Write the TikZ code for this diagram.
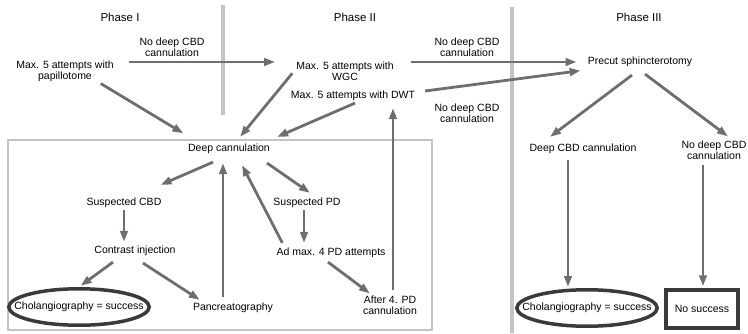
\documentclass[tikz,border=0pt]{standalone}
\usepackage{fontspec}
\setmainfont{Liberation Sans}
\usetikzlibrary{arrows.meta,shapes.geometric}

\definecolor{arrowgray}{RGB}{110,110,110}
\definecolor{sepgray}{RGB}{196,196,196}
\definecolor{ringgray}{RGB}{58,58,58}

\tikzset{
  lbl/.style={align=center, inner sep=2pt, font=\fontsize{10.5}{11}\selectfont},
  phase/.style={font=\fontsize{11.5}{12}\selectfont},
  arr/.style={draw=arrowgray, line width=2.8pt, -{Triangle[length=11pt,width=7.5pt]}},
  sep/.style={draw=sepgray, line width=3.5pt},
  frame/.style={draw=sepgray, line width=2.5pt},
  success/.style={lbl, ellipse, draw=ringgray, line width=3.5pt, inner xsep=-15pt, inner ysep=8pt},
  failbox/.style={lbl, draw=ringgray, line width=3.5pt, minimum width=72pt, minimum height=38pt},
}

\begin{document}
\begin{tikzpicture}[x=1pt, y=-1pt]
    \useasboundingbox (0,0) rectangle (748,333);
    % phase borders
    \draw [sep] (223,5) -- (223,115);
    \draw [sep] (512,7) -- (512,333);
    \draw [frame] (8,140) rectangle (432,330);

    \node [phase] (ph1) at (120,17) {Phase I};
    \node [phase] (ph2) at (355,17) {Phase II};
    \node [phase] (ph3) at (639,17) {Phase III};

    \node [lbl] (papi) at (65,71) {Max. 5 attempts with\\papillotome};
    \node [lbl] (wgc) at (345,71) {Max. 5 attempts with\\WGC};
    \node [lbl] (dwt) at (353,96) {Max. 5 attempts with DWT};
    \node [lbl] (precut) at (640,62) {Precut sphincterotomy};
    \node [lbl] (nocbd1) at (172,47) {No deep CBD\\cannulation};
    \node [lbl] (nocbd2) at (467,47) {No deep CBD\\cannulation};
    \node [lbl] (nocbd3) at (467,113) {No deep CBD\\cannulation};

    \node [lbl] (deep) at (229,149) {Deep cannulation};
    \node [lbl] (scbd) at (124,203) {Suspected CBD};
    \node [lbl] (spd) at (307,203) {Suspected PD};
    \node [lbl] (contrast) at (135,251) {Contrast injection};
    \node [lbl] (admax) at (331,253) {Ad max. 4 PD attempts};
    \node [success] (chol) at (79,307) {Cholangiography = success};
    \node [lbl] (pancr) at (233,308) {Pancreatography};
    \node [lbl] (after) at (390,305) {After 4. PD\\cannulation};

    \node [lbl] (dcbd) at (583,149) {Deep CBD cannulation};
    \node [lbl] (ndcbd) at (714,150) {No deep CBD\\cannulation};
    \node [success] (chol2) at (587,308) {Cholangiography = success};
    \node [failbox] (nosucc) at (702,309) {No success};

    % phase I and II
    \draw [arr, shorten <=13pt, shorten >=19pt] ([yshift=9pt]papi.east) -- ([yshift=9pt]wgc.west);
    \draw [arr, shorten <=15pt, shorten >=9pt] ([yshift=9pt]wgc.east) -- (precut.west);
    \draw [arr, shorten <=8pt, shorten >=5pt] ([yshift=4pt]dwt.east) -- ([yshift=-8pt]precut.west);
    \draw [arr, shorten >=3pt] ([xshift=-15pt]papi.south east) -- ([yshift=7pt]deep.north west);
    \draw [arr, shorten <=3pt] (wgc.west) -- ([xshift=11pt,yshift=5pt]deep.north);
    \draw [arr] ([xshift=2pt]dwt.south) -- ([xshift=5pt,yshift=5pt]deep.north east);

    % inside the box
    \draw [arr] ([xshift=-16pt,yshift=-6pt]deep.south) -- ([xshift=-3pt,yshift=11pt]scbd.north east);
    \draw [arr] ([xshift=-10pt,yshift=4pt]pancr.north) -- ([xshift=-6pt,yshift=-7pt]deep.south);
    \draw [arr] ([xshift=8pt,yshift=3pt]admax.north west) -- ([xshift=13pt,yshift=-9pt]deep.south);
    \draw [arr] ([xshift=-5pt,yshift=-7pt]deep.south east) -- ([xshift=3pt,yshift=3pt]spd.north);
    \draw [arr, shorten >=2pt] (scbd.south) -- ([xshift=-11pt]contrast.north);
    \draw [arr, shorten >=3pt] ([xshift=-3pt]spd.south) -- ([xshift=-27pt]admax.north);
    \draw [arr, shorten >=2pt] ([xshift=-22pt,yshift=-4pt]contrast.south) -- (chol.north);
    \draw [arr] ([xshift=8pt,yshift=-5pt]contrast.south) -- ([xshift=9pt,yshift=1pt]pancr.north west);
    \draw [arr] ([xshift=-3pt,yshift=-2pt]admax.south) -- ([xshift=9pt]after.north west);
    \draw [arr, shorten <=3pt, shorten >=5pt] ([xshift=3pt]after.north) -- ([xshift=40pt]dwt.south);

    % phase III
    \draw [arr] ([xshift=-8pt,yshift=-6pt]precut.south) -- ([xshift=-33pt,yshift=5pt]dcbd.north);
    \draw [arr] ([xshift=5pt,yshift=-5pt]precut.south) -- ([xshift=14pt,yshift=2pt]ndcbd.north);
    \draw [arr, shorten <=4pt, shorten >=1pt] ([xshift=-15pt]dcbd.south) -- ([xshift=-19pt]chol2.north);
    \draw [arr, shorten <=3pt, shorten >=2pt] ([xshift=-11pt]ndcbd.south) -- ([xshift=1pt]nosucc.north);
  \end{tikzpicture}
\end{document}
